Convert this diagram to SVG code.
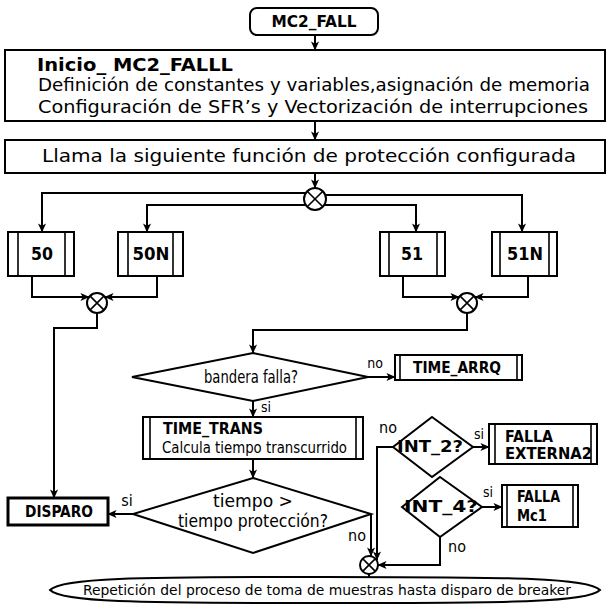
<svg xmlns="http://www.w3.org/2000/svg" width="609" height="612" viewBox="0 0 609 612">
<defs>
<marker id="ah" viewBox="0 0 10 10" refX="9.5" refY="5" markerWidth="9" markerHeight="9" markerUnits="userSpaceOnUse" orient="auto"><path d="M0,0.5 L10,5 L0,9.5 L2.5,5 z" fill="#000"/></marker>
</defs>
<style>
.s{fill:#fff;stroke:#000;stroke-width:2}
.t{fill:#fff;stroke:#000;stroke-width:3}
.l{fill:none;stroke:#000;stroke-width:1.6}
.c{fill:none;stroke:#000;stroke-width:2;marker-end:url(#ah)}
text{font-family:"DejaVu Sans Condensed","DejaVu Sans",sans-serif;fill:#000;font-size:15px}
.b{font-weight:bold}
.m{text-anchor:middle}
.sm{font-size:14px}
.md{font-size:16px}
.lg{font-size:17px}
</style>
<rect width="609" height="612" fill="#fff"/>

<g id="connectors">
<path class="c" d="M315,35 V50"/>
<path class="c" d="M315,121 V140"/>
<path class="c" d="M315,173 V188"/>
<path class="c" d="M306,193 H42 V232"/>
<path class="c" d="M305,205 H147 V232"/>
<path class="c" d="M325,195 H522 V232"/>
<path class="c" d="M324,205 H416 V232"/>
<path class="c" d="M32,276 V297 H89"/>
<path class="c" d="M157,276 V297 H105"/>
<path class="c" d="M403,276 V297 H459"/>
<path class="c" d="M528,276 V297 H475"/>
<path class="c" d="M97,313 V328 H54 V498"/>
<path class="c" d="M467,313 V330 H253 V353"/>
<path class="c" d="M368,377 H395"/>
<path class="c" d="M253,401 V417"/>
<path class="c" d="M253,459 V478"/>
<path class="c" d="M133,514 H108"/>
<path class="c" d="M371,514 V556"/>
<path class="c" d="M393,447 H377 V560"/>
<path class="c" d="M473,447 H489"/>
<path class="c" d="M482,507 H502"/>
<path class="c" d="M440,537 V565 H378"/>
<path class="c" d="M369,574 V577"/>
</g>

<g id="start">
<rect class="s" x="250" y="8" width="128" height="27" rx="7"/>
<text class="b m" x="314" y="27" textLength="85" lengthAdjust="spacingAndGlyphs">MC2_FALL</text>
</g>

<g id="init">
<rect class="s" x="5" y="50" width="600" height="71"/>
<text class="b lg" x="37" y="71" textLength="196" lengthAdjust="spacingAndGlyphs">Inicio_ MC2_FALLL</text>
<text class="lg" x="38" y="91" textLength="552" lengthAdjust="spacingAndGlyphs">Definición de  constantes y variables,asignación de memoria</text>
<text class="lg" x="38" y="113" textLength="550" lengthAdjust="spacingAndGlyphs">Configuración de  SFR’s y Vectorización de  interrupciones</text>
</g>

<g id="call">
<rect class="s" x="5" y="140" width="600" height="33"/>
<text class="lg" x="42" y="162" textLength="534" lengthAdjust="spacingAndGlyphs">Llama la  siguiente función de protección configurada</text>
</g>

<g id="join1">
<circle class="s" cx="315" cy="199" r="11"/>
<path class="l" d="M307.2,191.2 L322.8,206.8 M322.8,191.2 L307.2,206.8"/>
</g>

<g id="p50">
<rect class="s" x="8" y="232" width="66" height="44"/>
<path class="l" d="M18,232 V276 M65,232 V276"/>
<text class="b m lg" x="42" y="260" textLength="22" lengthAdjust="spacingAndGlyphs">50</text>
</g>
<g id="p50N">
<rect class="s" x="118" y="232" width="65" height="44"/>
<path class="l" d="M128,232 V276 M173,232 V276"/>
<text class="b m lg" x="151" y="260" textLength="37" lengthAdjust="spacingAndGlyphs">50N</text>
</g>
<g id="p51">
<rect class="s" x="380" y="232" width="65" height="44"/>
<path class="l" d="M389,232 V276 M437,232 V276"/>
<text class="b m lg" x="412" y="260" textLength="22" lengthAdjust="spacingAndGlyphs">51</text>
</g>
<g id="p51N">
<rect class="s" x="492" y="232" width="65" height="44"/>
<path class="l" d="M500,232 V276 M549,232 V276"/>
<text class="b m lg" x="525" y="260" textLength="36" lengthAdjust="spacingAndGlyphs">51N</text>
</g>

<g id="join2">
<circle class="s" cx="97" cy="303" r="10"/>
<path class="l" d="M89.9,295.9 L104.1,310.1 M104.1,295.9 L89.9,310.1"/>
</g>
<g id="join3">
<circle class="s" cx="467" cy="303" r="10"/>
<path class="l" d="M459.9,295.9 L474.1,310.1 M474.1,295.9 L459.9,310.1"/>
</g>

<g id="bandera">
<polygon class="s" points="253,353 368,377 253,401 132,377"/>
<text class="m lg" x="251" y="383" textLength="94" lengthAdjust="spacingAndGlyphs">bandera falla?</text>
<text class="m sm" x="375" y="368">no</text>
<text class="m sm" x="266" y="412">si</text>
</g>

<g id="time_arrq">
<rect class="s" x="395" y="355" width="127" height="25"/>
<path class="l" d="M400,355 V380 M517,355 V380"/>
<text class="b m" x="457" y="373" textLength="88" lengthAdjust="spacingAndGlyphs">TIME_ARRQ</text>
</g>

<g id="time_trans">
<rect class="s" x="143" y="417" width="220" height="42"/>
<path class="l" d="M150,417 V459 M356,417 V459"/>
<text class="b" x="163" y="434" textLength="100" lengthAdjust="spacingAndGlyphs">TIME_TRANS</text>
<text x="162" y="453" textLength="185" lengthAdjust="spacingAndGlyphs">Calcula tiempo transcurrido</text>
</g>

<g id="tiempo">
<polygon class="s" points="253,478 371,514 253,553 133,514"/>
<text class="m lg" x="253" y="507" textLength="80" lengthAdjust="spacingAndGlyphs">tiempo  &gt;</text>
<text class="m lg" x="253" y="527" textLength="150" lengthAdjust="spacingAndGlyphs">tiempo protección?</text>
<text class="m md" x="127" y="506">si</text>
<text class="m md" x="357" y="541">no</text>
</g>

<g id="disparo">
<rect class="t" x="8" y="498" width="100" height="27"/>
<text class="b m" x="59" y="517" textLength="68" lengthAdjust="spacingAndGlyphs">DISPARO</text>
</g>

<g id="int2">
<polygon class="s" points="432,417 473,447 432,477 393,447"/>
<text class="b m" x="430" y="452" textLength="66" lengthAdjust="spacingAndGlyphs">INT_2?</text>
<text class="m md" x="388" y="433">no</text>
<text class="m sm" x="479" y="439">si</text>
</g>

<g id="falla_ext2">
<rect class="s" x="489" y="424" width="108" height="40"/>
<path class="l" d="M495,424 V464 M591,424 V464"/>
<text class="b" x="505" y="442" textLength="48" lengthAdjust="spacingAndGlyphs">FALLA</text>
<text class="b" x="505" y="459" textLength="87" lengthAdjust="spacingAndGlyphs">EXTERNA2</text>
</g>

<g id="int4">
<polygon class="s" points="440,477 482,507 440,537 402,507"/>
<text class="b m" x="441" y="512" textLength="74" lengthAdjust="spacingAndGlyphs">INT_4?</text>
<text class="m sm" x="488" y="497">si</text>
<text class="m md" x="457" y="552">no</text>
</g>

<g id="falla_mc1">
<rect class="s" x="502" y="485" width="76" height="42"/>
<path class="l" d="M507,485 V527 M573,485 V527"/>
<text class="b" x="517" y="502" textLength="43" lengthAdjust="spacingAndGlyphs">FALLA</text>
<text class="b" x="517" y="521" textLength="30" lengthAdjust="spacingAndGlyphs">Mc1</text>
</g>

<g id="join4">
<circle class="s" cx="369" cy="565" r="9"/>
<path class="l" d="M362.6,558.6 L375.4,571.4 M375.4,558.6 L362.6,571.4"/>
</g>

<g id="end">
<path class="s" d="M50,590 C62,578 130,577 325,577 C520,577 588,578 600,590 C588,602 520,603 325,603 C130,603 62,602 50,590 Z"/>
<text class="m sm" x="327" y="595" textLength="488" lengthAdjust="spacingAndGlyphs">Repetición del proceso de toma de muestras  hasta disparo de breaker</text>
</g>
</svg>
